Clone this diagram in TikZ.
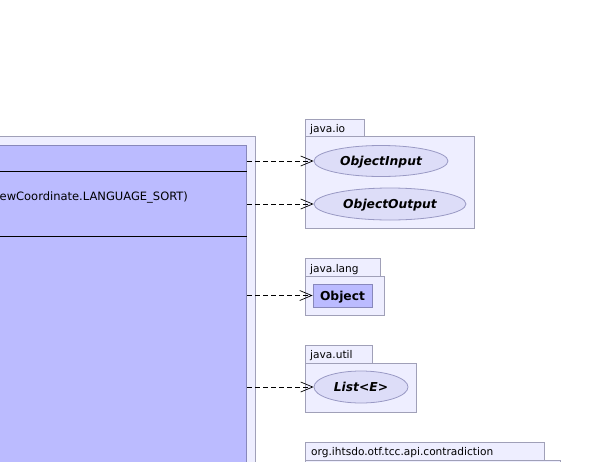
\documentclass[tikz,border=0pt]{standalone}
\usepackage{fontspec}
\setmainfont{DejaVu Sans}
\usetikzlibrary{arrows.meta,shapes.geometric}
\definecolor{pkgfill}{HTML}{EEEEFF}
\definecolor{pkgline}{HTML}{A0A0B8}
\definecolor{clsfill}{HTML}{BBBBFF}
\definecolor{clsline}{HTML}{8888BB}
\definecolor{ifcfill}{HTML}{DDDDF8}
\definecolor{ifcline}{HTML}{9999C4}
\tikzset{
  pkgbox/.style={draw=pkgline, fill=pkgfill, line width=0.8pt},
  pkglabel/.style={anchor=west, inner sep=0pt, yshift=-1.5pt, font=\fontsize{10.6}{12}\selectfont},
  iface/.style={ellipse, draw=ifcline, fill=ifcfill, line width=0.8pt, inner sep=0pt,
    text depth=0pt, font=\fontsize{12.3}{14}\selectfont\bfseries\itshape},
  klass/.style={draw=clsline, fill=clsfill, line width=0.8pt, inner sep=0pt,
    text depth=0pt, font=\fontsize{12.3}{14}\selectfont\bfseries},
  dep/.style={dash pattern=on 5pt off 3pt, line width=0.7pt,
    -{Straight Barb[length=12pt,width=10pt]}},
}
\begin{document}
\begin{tikzpicture}[x=1pt,y=-1pt]
\useasboundingbox (0,0) rectangle (589,461);
\clip (0,0) rectangle (589,461);

% enclosing package of the class
\path[pkgbox] (-60,136) rectangle (255,560);
% class body with its compartments
\node[draw=clsline, fill=clsfill, line width=0.8pt, anchor=north east,
      minimum width=320pt, minimum height=420pt, inner sep=0pt] (cls) at (247,145) {};
\draw[line width=0.8pt] (cls.north west |- 0,171) -- (cls.north east |- 0,171);
\draw[line width=0.8pt] (cls.north west |- 0,236) -- (cls.north east |- 0,236);
\node[anchor=west, inner sep=0pt, yshift=-1.5pt, font=\fontsize{11.5}{13}\selectfont] (attr) at (-0.5,196) {ewCoordinate.LANGUAGE\_SORT)};

% java.io
\path[pkgbox] (305,119) rectangle (364,136);
\path[pkgbox] (305,136) rectangle (474,228);
\node[pkglabel] (tio) at (310,128) {java.io};
\node[iface, minimum width=134pt, minimum height=31pt] (oin) at (381,161) {ObjectInput};
\node[iface, minimum width=152pt, minimum height=32pt] (oout) at (390,204) {ObjectOutput};

% java.lang
\path[pkgbox] (305,258) rectangle (380,276);
\path[pkgbox] (305,276) rectangle (384,315);
\node[pkglabel] (tlang) at (310,268) {java.lang};
\node[klass, minimum width=59pt, minimum height=23pt] (obj) at (342.5,295.5) {Object};

% java.util
\path[pkgbox] (305,345) rectangle (372,363);
\path[pkgbox] (305,363) rectangle (416,412);
\node[pkglabel] (tutil) at (310,354) {java.util};
\node[iface, minimum width=94pt, minimum height=32pt] (lst) at (361,387) {List<E>};

% org.ihtsdo.otf.tcc.api.contradiction
\path[pkgbox] (305,442) rectangle (544,460);
\path[pkgbox] (305,460) rectangle (560,520);
\node[pkglabel] (tcon) at (311,451) {org.ihtsdo.otf.tcc.api.contradiction};

% dependencies
\draw[dep] (cls.east |- oin.west) -- (oin.west);
\draw[dep] (cls.east |- oout.west) -- (oout.west);
\draw[dep] (cls.east |- obj.west) -- (obj.west);
\draw[dep] (cls.east |- lst.west) -- (lst.west);
\end{tikzpicture}
\end{document}
